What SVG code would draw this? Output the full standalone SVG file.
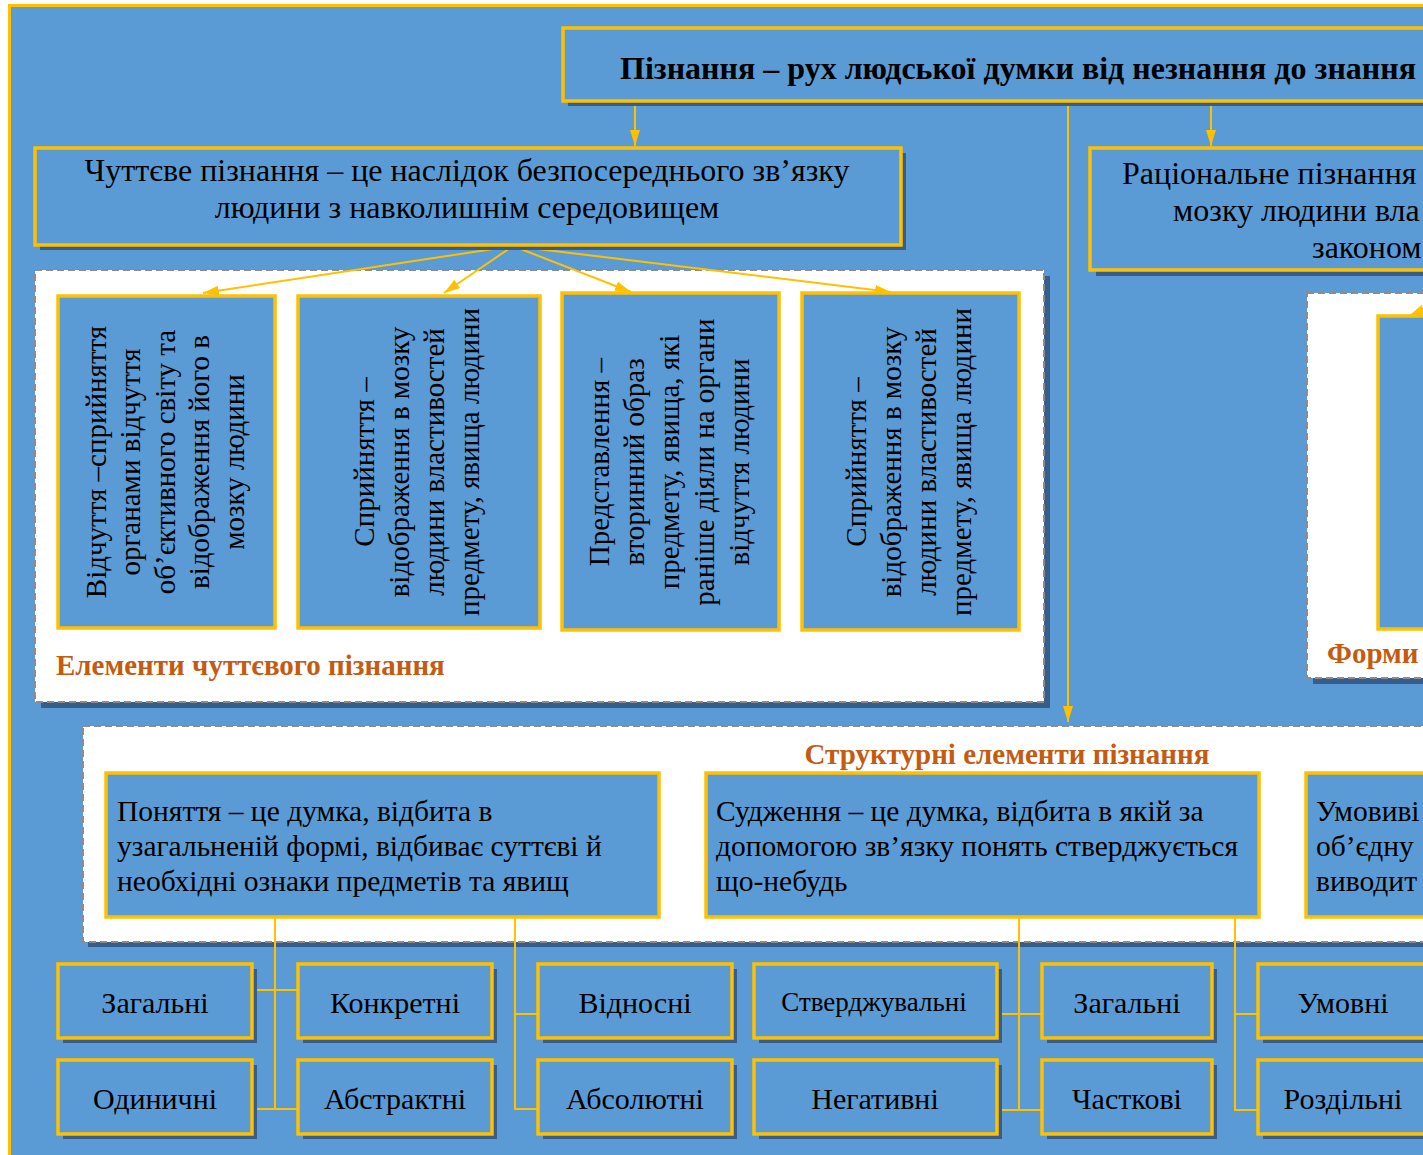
<svg xmlns="http://www.w3.org/2000/svg" width="1423" height="1155" viewBox="0 0 1423 1155">
<defs>
<style>
.t{font-family:"Liberation Serif","Times New Roman",serif;fill:#000}
.box{fill:#5B9BD5;stroke:#FFC000;stroke-width:3.5}
.sh{fill:#385D8A}
.dash{fill:#fff;stroke:#8C8C8C;stroke-width:2;stroke-dasharray:7,4}
.con{fill:none;stroke:#FFC000;stroke-width:2}
.lbl{font-family:"Liberation Serif","Times New Roman",serif;font-weight:bold;fill:#C55A11}
</style>
<marker id="arr" viewBox="0 0 16 10" refX="16" refY="5" markerWidth="16" markerHeight="10" markerUnits="userSpaceOnUse" orient="auto">
<path d="M0,0 L16,5 L0,10 Z" fill="#FFC000"/>
</marker>
</defs>
<rect x="0" y="0" width="1423" height="1155" fill="#fff"/>
<rect x="9.5" y="5.5" width="1460" height="1200" fill="#5B9BD5" stroke="#FFC000" stroke-width="3"/>

<!-- containers -->
<g id="elements-group">
<rect class="sh" x="41" y="276" width="1009" height="432"/>
<rect class="dash" x="35" y="270" width="1009" height="432"/>
<text class="lbl" x="56" y="675" font-size="29">Елементи чуттєвого пізнання</text>
</g>
<g id="forms-group">
<rect class="sh" x="1313" y="299" width="200" height="385"/>
<rect class="dash" x="1307" y="293" width="200" height="385"/>
<text class="lbl" x="1327" y="663" font-size="29">Форми</text>
</g>
<g id="structure-group">
<rect class="sh" x="88" y="731" width="1400" height="216"/>
<rect class="dash" x="83" y="726" width="1400" height="216"/>
<text class="lbl" x="1007" y="764" font-size="29" text-anchor="middle">Структурні елементи пізнання</text>
</g>

<!-- connectors -->
<g id="connectors">
<line class="con" x1="635" y1="101" x2="635" y2="146" marker-end="url(#arr)"/>
<line class="con" x1="1068" y1="101" x2="1068" y2="722" marker-end="url(#arr)"/>
<line class="con" x1="1211" y1="101" x2="1211" y2="146" marker-end="url(#arr)"/>
<line class="con" x1="513" y1="246" x2="203" y2="293" marker-end="url(#arr)"/>
<line class="con" x1="513" y1="246" x2="444" y2="293" marker-end="url(#arr)"/>
<line class="con" x1="513" y1="246" x2="631" y2="292" marker-end="url(#arr)"/>
<line class="con" x1="513" y1="246" x2="891" y2="292" marker-end="url(#arr)"/>
<line class="con" x1="1445" y1="300" x2="1409" y2="316" marker-end="url(#arr)"/>
<path class="con" d="M275,918 V1109 M252,990 H298 M252,1109 H298"/>
<path class="con" d="M515,918 V1109 H538 M515,1014 H538"/>
<path class="con" d="M1019,918 V1110 M997,1014 H1042 M997,1110 H1042"/>
<path class="con" d="M1235,918 V1110 H1258 M1235,1014 H1258"/>
</g>

<!-- top -->
<g id="n-top">
<rect class="sh" x="568" y="33" width="900" height="73"/>
<rect class="box" x="563" y="28" width="900" height="73"/>
<text class="t" x="620" y="79" font-size="32" font-weight="bold">Пізнання – рух людської думки від незнання до знання</text>
</g>
<g id="n-sensory">
<rect class="sh" x="40" y="153" width="866" height="97"/>
<rect class="box" x="35" y="148" width="866" height="97"/>
<text class="t" x="467" y="181" font-size="32" text-anchor="middle">Чуттєве пізнання – це наслідок безпосереднього зв’язку</text>
<text class="t" x="467" y="218" font-size="32" text-anchor="middle">людини з навколишнім середовищем</text>
</g>
<g id="n-rational">
<rect class="sh" x="1096" y="154" width="400" height="122"/>
<rect class="box" x="1090" y="148" width="400" height="122"/>
<text class="t" x="1122" y="184" font-size="32">Раціональне пізнання</text>
<text class="t" x="1173" y="221" font-size="32">мозку людини вла</text>
<text class="t" x="1312" y="258" font-size="32">законом</text>
</g>
<g id="n-forms-inner">
<rect class="box" x="1378" y="316" width="100" height="313"/>
</g>

<!-- vertical boxes -->
<g id="n-vidchuttia">
<rect class="box" x="58" y="296" width="217" height="332"/>
<g class="t" font-size="29" text-anchor="middle">
<text transform="translate(106,462) rotate(-90)">Відчуття –сприйняття</text>
<text transform="translate(140,462) rotate(-90)">органами відчуття</text>
<text transform="translate(175,462) rotate(-90)">об’єктивного світу та</text>
<text transform="translate(209,462) rotate(-90)">відображення його в</text>
<text transform="translate(244,462) rotate(-90)">мозку людини</text>
</g>
</g>
<g id="n-spryiniattia1">
<rect class="box" x="298" y="296" width="242" height="332"/>
<g class="t" font-size="29" text-anchor="middle">
<text transform="translate(374,462) rotate(-90)">Сприйняття –</text>
<text transform="translate(409,462) rotate(-90)">відображення в мозку</text>
<text transform="translate(444,462) rotate(-90)">людини властивостей</text>
<text transform="translate(479,462) rotate(-90)">предмету, явища людини</text>
</g>
</g>
<g id="n-predstavlennia">
<rect class="box" x="562" y="293" width="217" height="337"/>
<g class="t" font-size="29" text-anchor="middle">
<text transform="translate(609,462) rotate(-90)">Представлення –</text>
<text transform="translate(644,462) rotate(-90)">вторинний образ</text>
<text transform="translate(679,462) rotate(-90)">предмету, явища, які</text>
<text transform="translate(714,462) rotate(-90)">раніше діяли на органи</text>
<text transform="translate(749,462) rotate(-90)">відчуття людини</text>
</g>
</g>
<g id="n-spryiniattia2">
<rect class="box" x="802" y="293" width="217" height="337"/>
<g class="t" font-size="29" text-anchor="middle">
<text transform="translate(866,462) rotate(-90)">Сприйняття –</text>
<text transform="translate(901,462) rotate(-90)">відображення в мозку</text>
<text transform="translate(936,462) rotate(-90)">людини властивостей</text>
<text transform="translate(971,462) rotate(-90)">предмету, явища людини</text>
</g>
</g>

<!-- structure boxes -->
<g id="n-poniattia">
<rect class="box" x="106" y="773" width="553" height="144"/>
<g class="t" font-size="29.5">
<text x="117" y="821">Поняття – це думка, відбита в</text>
<text x="117" y="856">узагальненій формі, відбиває суттєві й</text>
<text x="117" y="891">необхідні ознаки предметів та явищ</text>
</g>
</g>
<g id="n-sudzhennia">
<rect class="box" x="706" y="773" width="553" height="144"/>
<g class="t" font-size="29.5">
<text x="716" y="821">Судження – це думка, відбита в якій за</text>
<text x="716" y="856">допомогою зв’язку понять стверджується</text>
<text x="716" y="891">що-небудь</text>
</g>
</g>
<g id="n-umovyvid">
<rect class="box" x="1306" y="773" width="200" height="144"/>
<g class="t" font-size="29.5">
<text x="1316" y="821">Умовиві</text>
<text x="1316" y="856">об’єдну</text>
<text x="1316" y="891">виводит</text>
</g>
</g>

<!-- bottom boxes -->
<g id="n-zahalni1"><rect class="sh" x="63" y="969" width="194" height="74"/><rect class="box" x="58" y="964" width="194" height="74"/><text class="t" x="155" y="1013" font-size="30" text-anchor="middle">Загальні</text></g>
<g id="n-odynychni"><rect class="sh" x="63" y="1065" width="194" height="74"/><rect class="box" x="58" y="1060" width="194" height="74"/><text class="t" x="155" y="1109" font-size="30" text-anchor="middle">Одиничні</text></g>
<g id="n-konkretni"><rect class="sh" x="303" y="969" width="194" height="74"/><rect class="box" x="298" y="964" width="194" height="74"/><text class="t" x="395" y="1013" font-size="30" text-anchor="middle">Конкретні</text></g>
<g id="n-abstraktni"><rect class="sh" x="303" y="1065" width="194" height="74"/><rect class="box" x="298" y="1060" width="194" height="74"/><text class="t" x="395" y="1109" font-size="30" text-anchor="middle">Абстрактні</text></g>
<g id="n-vidnosni"><rect class="sh" x="543" y="969" width="194" height="74"/><rect class="box" x="538" y="964" width="194" height="74"/><text class="t" x="635" y="1013" font-size="30" text-anchor="middle">Відносні</text></g>
<g id="n-absoliutni"><rect class="sh" x="543" y="1065" width="194" height="74"/><rect class="box" x="538" y="1060" width="194" height="74"/><text class="t" x="635" y="1109" font-size="30" text-anchor="middle">Абсолютні</text></g>
<g id="n-sverdzhuvalni"><rect class="sh" x="759" y="969" width="243" height="74"/><rect class="box" x="754" y="964" width="243" height="74"/><text class="t" x="874" y="1011" font-size="27" text-anchor="middle">Стверджувальні</text></g>
<g id="n-nehatyvni"><rect class="sh" x="759" y="1065" width="243" height="74"/><rect class="box" x="754" y="1060" width="243" height="74"/><text class="t" x="875" y="1109" font-size="30" text-anchor="middle">Негативні</text></g>
<g id="n-zahalni2"><rect class="sh" x="1047" y="969" width="170" height="74"/><rect class="box" x="1042" y="964" width="170" height="74"/><text class="t" x="1127" y="1013" font-size="30" text-anchor="middle">Загальні</text></g>
<g id="n-chastkovi"><rect class="sh" x="1047" y="1065" width="170" height="74"/><rect class="box" x="1042" y="1060" width="170" height="74"/><text class="t" x="1127" y="1109" font-size="30" text-anchor="middle">Часткові</text></g>
<g id="n-umovni"><rect class="sh" x="1263" y="969" width="200" height="74"/><rect class="box" x="1258" y="964" width="200" height="74"/><text class="t" x="1343" y="1013" font-size="30" text-anchor="middle">Умовні</text></g>
<g id="n-rozdilni"><rect class="sh" x="1263" y="1065" width="200" height="74"/><rect class="box" x="1258" y="1060" width="200" height="74"/><text class="t" x="1343" y="1109" font-size="30" text-anchor="middle">Роздільні</text></g>
</svg>
